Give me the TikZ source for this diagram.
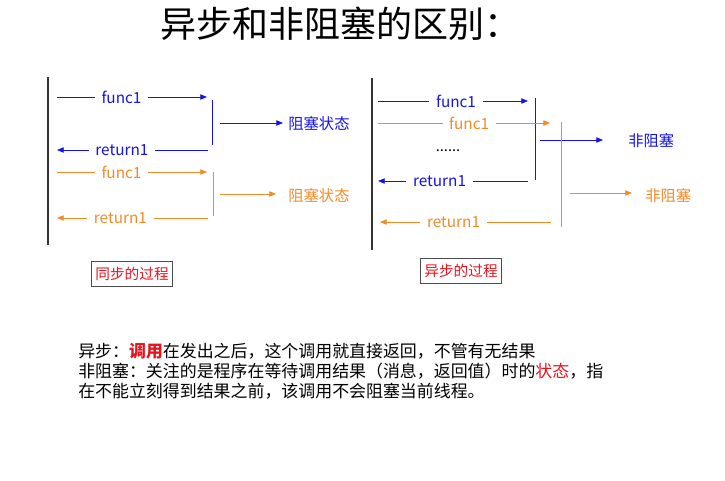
\documentclass[tikz,border=0pt]{standalone}
\usepackage{fontspec}
\setmainfont{Noto Sans CJK SC}
\usetikzlibrary{arrows.meta}
\definecolor{bl}{RGB}{20,20,230}
\definecolor{og}{RGB}{240,140,40}
\definecolor{rd}{RGB}{230,20,30}
\tikzset{
 ar/.style={-{Triangle[length=5pt,width=4pt]},line width=0.6pt},
 lb/.style={fill=white,inner ysep=2pt,inner xsep=5pt,font=\fontsize{11.5}{13}\selectfont},
 side/.style={font=\fontsize{11.5}{13}\selectfont,anchor=west,inner sep=0},
 box/.style={draw=black!70,line width=0.6pt,text=rd,font=\fontsize{11}{13}\selectfont,minimum width=61pt,minimum height=19pt,inner sep=0},
}
\begin{document}
\begin{tikzpicture}[x=0.75pt,y=-0.75pt]
\useasboundingbox (0,0) rectangle (725,481);
\node (title) at (340,24) {\fontsize{27}{30}\selectfont 异步和非阻塞的区别：};
% left
\draw[line width=0.8pt,black!80] (48,77) coordinate (l1) -- (48,245) coordinate (l2);
\begin{scope}[bl]
\coordinate (a1) at (57,97); \coordinate (a2) at (207,97);
\draw[ar] (a1) -- node[lb,pos=0.43] (t1) {func1} (a2);
\draw[line width=0.6pt] (212,100) coordinate (b1) -- (212,145) coordinate (b2);
\coordinate (c1) at (220,123); \coordinate (c2) at (283,123);
\node[side] (s1) at (288,124) {阻塞状态};
\draw[ar] (c1) -- (c2);
\coordinate (d1) at (208,150); \coordinate (d2) at (57,150);
\draw[ar] (d1) -- node[lb,pos=0.57] (t2) {return1} (d2);
\end{scope}
\begin{scope}[og]
\coordinate (a3) at (57,172); \coordinate (a4) at (207,172);
\draw[ar] (a3) -- node[lb,pos=0.43] (t3) {func1} (a4);
\draw[line width=0.6pt] (213,172) coordinate (b3) -- (213,216) coordinate (b4);
\coordinate (c3) at (220,194); \coordinate (c4) at (276,194);
\node[side] (s2) at (288,196) {阻塞状态};
\draw[ar] (c3) -- (c4);
\coordinate (d3) at (208,218); \coordinate (d4) at (57,218);
\draw[ar] (d3) -- node[lb,pos=0.58] (t4) {return1} (d4);
\end{scope}
\node[box] (bx1) at (132,274) {同步的过程};
% right
\draw[line width=0.8pt,black!80] (372,78) coordinate (r1) -- (372,250) coordinate (r2);
\begin{scope}[bl]
\coordinate (e1) at (378,101); \coordinate (e2) at (528,101);
\draw[ar] (e1) -- node[lb,pos=0.52] (u1) {func1} (e2);
\draw[line width=0.6pt] (535,98) coordinate (f1) -- (535,180) coordinate (f2);
\coordinate (g1) at (540,140);
\node[side] (s3) at (628,141) {非阻塞};
\draw[ar] (g1) -- ++(63,0) coordinate (g2);
\coordinate (h1) at (528,181); \coordinate (h2) at (378,181);
\draw[ar] (h1) -- node[lb,pos=0.59] (u2) {return1} (h2);
\end{scope}
\begin{scope}[og]
\coordinate (e3) at (378,123); \coordinate (e4) at (550,123);
\draw[ar] (e3) -- node[lb,pos=0.53] (u3) {func1} (e4);
\draw[line width=0.6pt] (561,122) coordinate (f3) -- (561,227) coordinate (f4);
\coordinate (g3) at (570,193);
\node[side] (s4) at (645,196) {非阻塞};
\draw[ar] (g3) -- ++(62,0) coordinate (g4);
\coordinate (h3) at (551,222); \coordinate (h4) at (380,222);
\draw[ar] (h3) -- node[lb,pos=0.57] (u4) {return1} (h4);
\end{scope}
\node[font=\fontsize{11}{12}\selectfont] (dots) at (448,151) {......};
\node[box] (bx2) at (461,271) {异步的过程};
% bottom text
\begin{scope}[font=\fontsize{12.7}{15}\selectfont]
\node[anchor=west,inner sep=0] (p1) at (78,351) {异步：\textcolor{rd}{\bfseries 调用}在发出之后，这个调用就直接返回，不管有无结果};
\node[anchor=west,inner sep=0] (p2) at (78,371) {非阻塞：关注的是程序在等待调用结果（消息，返回值）时的\textcolor{rd}{状态}，指};
\node[anchor=west,inner sep=0] (p3) at (78,391) {在不能立刻得到结果之前，该调用不会阻塞当前线程。};
\end{scope}
\end{tikzpicture}
\end{document}
